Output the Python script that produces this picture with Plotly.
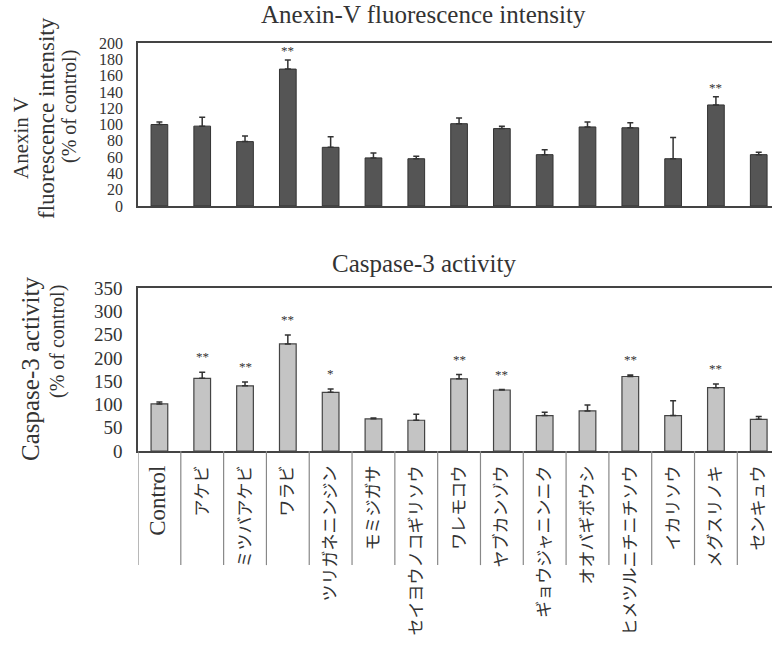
import plotly.graph_objects as go

categories = ["Control", "アケビ", "ミツバアケビ", "ワラビ", "ツリガネニンジン", "モミジガサ",
              "セイヨウノコギリソウ", "ワレモコウ", "ヤブカンゾウ", "ギョウジャニンニク",
              "オオバギボウシ", "ヒメツルニチニチソウ", "イカリソウ", "メグスリノキ", "センキュウ"]

anexin_mean = [100, 98, 79, 168, 72, 59, 58, 101, 95, 63, 97, 96, 58, 124, 63]
anexin_err = [3, 11, 7, 11, 13, 6, 3, 7, 3, 6, 6, 6, 26, 10, 3]
anexin_sig = ["", "", "", "**", "", "", "", "", "", "", "", "", "", "**", ""]

casp_mean = [101, 156, 140, 230, 126, 69, 66, 155, 131, 76, 86, 160, 76, 136, 68]
casp_err = [4, 13, 8, 19, 7, 2, 13, 9, 1, 7, 13, 3, 32, 8, 6]
casp_sig = ["", "**", "**", "**", "*", "", "", "**", "**", "", "", "**", "", "**", ""]

anexin_ticks = list(range(0, 201, 20))
casp_ticks = list(range(0, 351, 50))

W, H = 772, 656
serif = "Liberation Serif, DejaVu Serif, serif"
jp = "Noto Sans CJK JP"
axcol = "#444444"
txtcol = "#333333"

tick_text = [f"<span style='font-family:{serif};font-size:23px'>{c}</span>" if c.isascii() else c
             for c in categories]

fig = go.Figure()
fig.add_trace(go.Bar(
    x=categories, y=anexin_mean, xaxis="x", yaxis="y", width=0.39,
    marker=dict(color="#555555", line=dict(color="#333333", width=1)),
    error_y=dict(type="data", symmetric=False, array=anexin_err,
                 arrayminus=[0] * len(anexin_err), color="#333333", thickness=1.5, width=3),
    showlegend=False))
fig.add_trace(go.Bar(
    x=categories, y=casp_mean, xaxis="x2", yaxis="y2", width=0.39,
    marker=dict(color="#c4c4c4", line=dict(color="#444444", width=1.2)),
    error_y=dict(type="data", symmetric=False, array=casp_err,
                 arrayminus=[0] * len(casp_err), color="#333333", thickness=1.5, width=3),
    showlegend=False))

annotations = []
star_font = dict(size=13, color="#333333", family=serif)
for c, m, e, s in zip(categories, anexin_mean, anexin_err, anexin_sig):
    if s:
        annotations.append(dict(x=c, y=m + e, xref="x", yref="y", text=s, showarrow=False,
                                yanchor="bottom", yshift=0, font=star_font))
for c, m, e, s in zip(categories, casp_mean, casp_err, casp_sig):
    if s:
        annotations.append(dict(x=c, y=m + e, xref="x2", yref="y2", text=s, showarrow=False,
                                yanchor="bottom", yshift=6, font=star_font))

def py(p):
    return 1 - p / H

def px(p):
    return p / W

def ttl(text, x, y, size, angle=0):
    return dict(text=text, x=px(x), y=py(y), xref="paper", yref="paper", textangle=angle,
                showarrow=False, xanchor="center", yanchor="middle",
                font=dict(size=size, color=txtcol, family=serif))

annotations += [
    ttl("Anexin-V fluorescence intensity", 424, 14, 25),
    ttl("Caspase-3 activity", 424, 263, 25),
    ttl("Anexin V", 21, 138, 21, -90),
    ttl("fluorescence intensity", 46, 118, 23, -90),
    ttl("(% of control)", 70, 107, 20, -90),
    ttl("Caspase-3 activity", 30, 369, 25, -90),
    ttl("(% of control)", 57, 342, 20, -90),
]

n = len(categories)
shapes = []
for i in range(n + 1):
    shapes.append(dict(type="line", xref="x2", yref="y2 domain", x0=i - 0.5, x1=i - 0.5,
                       y0=-0.70, y1=0, line=dict(color="#888888", width=1.2)))

xr = [-0.5, 14.31]
fig.update_layout(
    width=W, height=H, margin=dict(l=0, r=0, t=0, b=0, autoexpand=False),
    paper_bgcolor="white", plot_bgcolor="white",
    xaxis=dict(domain=[px(138), 1], range=xr, anchor="y", showticklabels=False, ticks="", automargin=False,
               showline=True, linecolor=axcol, linewidth=1.5, mirror=True, showgrid=False, zeroline=False),
    yaxis=dict(domain=[py(206), py(43)], range=[0, 200], anchor="x", tickvals=anexin_ticks, automargin=False,
               showline=True, linecolor=axcol, linewidth=1.5, showgrid=False, zeroline=False, ticks="",
               ticklabelstandoff=10, tickfont=dict(size=16, color=txtcol, family=serif)),
    xaxis2=dict(domain=[px(138), 1], range=xr, anchor="y2", ticks="", tickangle=-90, automargin=False,
                tickmode="array", tickvals=categories, ticktext=tick_text,
                showline=True, linecolor=axcol, linewidth=1.5, mirror=True, showgrid=False, zeroline=False,
                ticklabelstandoff=6, tickfont=dict(size=17, color=txtcol, family=jp)),
    yaxis2=dict(domain=[py(451), py(288)], range=[0, 350], anchor="x2", tickvals=casp_ticks, automargin=False,
                showline=True, linecolor=axcol, linewidth=1.5, showgrid=False, zeroline=False, ticks="",
                ticklabelstandoff=10, tickfont=dict(size=19, color=txtcol, family=serif)),
    annotations=annotations, shapes=shapes,
)

fig.write_html("out.html", config={"displayModeBar": False},
               post_script="document.body.style.margin='0';document.body.style.padding='0';")
